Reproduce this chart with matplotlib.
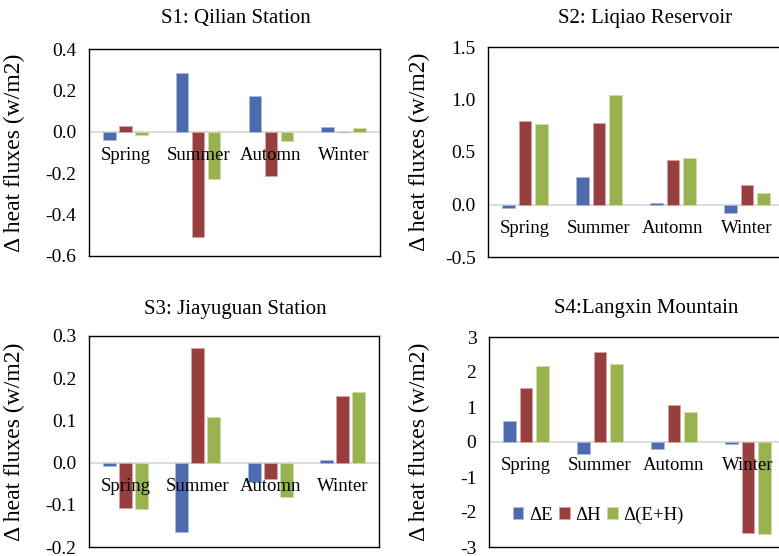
import numpy as np
import matplotlib
matplotlib.use("Agg")
import matplotlib.pyplot as plt
import matplotlib.transforms as mtransforms

plt.rcParams["font.family"] = ["Liberation Serif", "DejaVu Serif"]

seasons = ["Spring", "Summer", "Automn", "Winter"]
series_names = ["\u0394E", "\u0394H", "\u0394(E+H)"]
colors = ["#4F6BAF", "#963F3E", "#97B24E"]
edges = ["#A9B9DD", "#D9A3A2", "#CFDDA8"]

titles = ["S1: Qilian Station", "S2: Liqiao Reservoir",
          "S3: Jiayuguan Station", "S4:Langxin Mountain"]

# delta E, delta H, delta (E+H) per season
s1_e = [-0.04, 0.285, 0.171, 0.025]
s1_h = [0.028, -0.51, -0.215, -0.002]
s1_eh = [-0.014, -0.228, -0.043, 0.02]

s2_e = [-0.038, 0.263, 0.01, -0.083]
s2_h = [0.80, 0.773, 0.423, 0.184]
s2_eh = [0.77, 1.043, 0.442, 0.105]

s3_e = [-0.007, -0.164, -0.045, 0.006]
s3_h = [-0.107, 0.272, -0.038, 0.159]
s3_eh = [-0.111, 0.109, -0.081, 0.167]

s4_e = [0.61, -0.34, -0.21, -0.05]
s4_h = [1.54, 2.57, 1.07, -2.59]
s4_eh = [2.16, 2.24, 0.87, -2.64]

station_data = [(s1_e, s1_h, s1_eh), (s2_e, s2_h, s2_eh),
                (s3_e, s3_h, s3_eh), (s4_e, s4_h, s4_eh)]

ylims = [(-0.6, 0.4), (-0.5, 1.5), (-0.2, 0.3), (-3, 3)]
yticks = [np.arange(-0.6, 0.41, 0.2), np.arange(-0.5, 1.51, 0.5),
          np.arange(-0.2, 0.31, 0.1), np.arange(-3, 3.1, 1)]
yfmt = ["%.1f", "%.1f", "%.1f", "%d"]

# axes rectangles in pixels (left, top, width, height)
W, H = 779, 556
rects = [(89, 49, 291, 207), (488, 47, 296, 210),
         (89, 336, 290, 211), (489, 337, 296, 210)]
title_x = [0.505, 0.53, 0.503, 0.53]
title_pad = [19, 17, 16, 17]
ylabel_x = [-0.22, -0.196, -0.22, -0.20]

fig = plt.figure(figsize=(W / 100, H / 100), dpi=100)

x = np.arange(len(seasons))
step = 0.22
width = 0.175

for i in range(4):
    l, t, w, h = rects[i]
    ax = fig.add_axes([l / W, 1 - (t + h) / H, w / W, h / H])
    for k, vals in enumerate(station_data[i]):
        ax.bar(x + (k - 1) * step, vals, width, color=colors[k],
               edgecolor=edges[k], linewidth=0.6, label=series_names[k], zorder=2)
    ax.axhline(0, color="#D9D9D9", lw=1.3, zorder=1)
    ax.set_xlim(-0.5, 3.5)
    ax.set_ylim(*ylims[i])
    ax.set_yticks(yticks[i])
    ax.set_yticklabels([yfmt[i] % v for v in yticks[i]], fontsize=14)
    ax.set_xticks([])
    ax.tick_params(axis="y", length=0, pad=9)
    for sp in ax.spines.values():
        sp.set_color("black")
        sp.set_linewidth(1.0)
    ax.set_title(titles[i], fontsize=15, x=title_x[i], pad=title_pad[i])
    ax.set_ylabel("\u0394 heat fluxes (w/m2)", fontsize=17)
    ax.yaxis.set_label_coords(ylabel_x[i], 0.5)

    # season labels sit just under the zero line
    trans = mtransforms.blended_transform_factory(ax.transData, ax.transData)
    offset = mtransforms.offset_copy(trans, fig=fig, x=0, y=-17, units="points")
    for j, s in enumerate(seasons):
        ax.text(x[j], 0, s, transform=offset, ha="center", va="center",
                fontsize=13.5, zorder=5)

    if i == 3:
        ax.legend(loc="center left", bbox_to_anchor=(0.05, 0.152), ncol=3,
                  frameon=False, fontsize=13.5, handlelength=0.55,
                  handleheight=0.55, handletextpad=0.3, columnspacing=0.35,
                  borderpad=0)

fig.savefig("out.png", dpi=100)
